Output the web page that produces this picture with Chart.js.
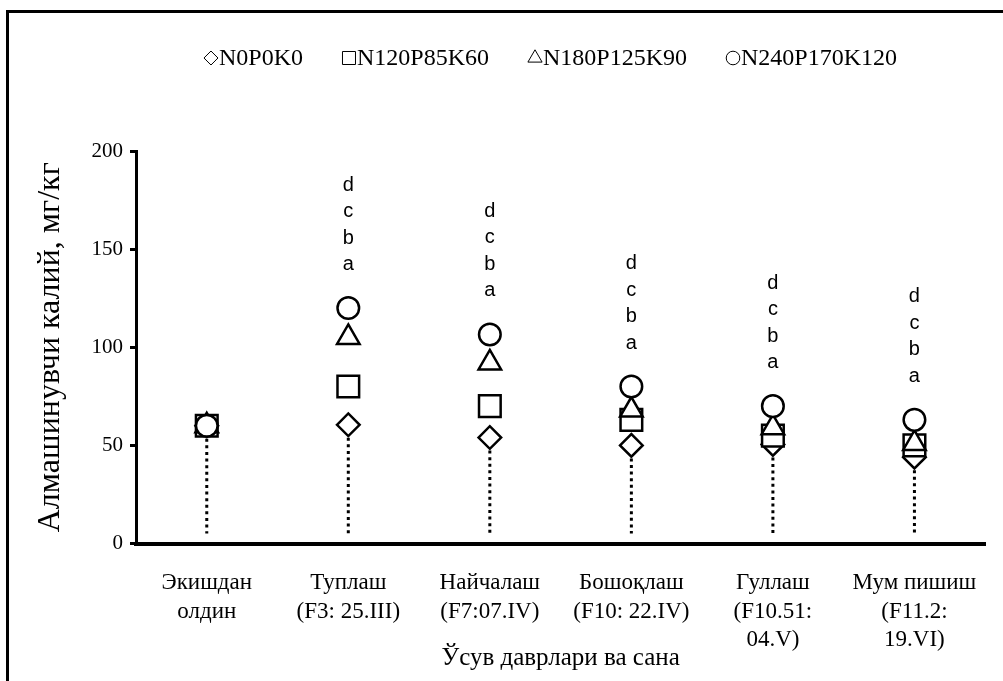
<!DOCTYPE html>
<html>
<head>
<meta charset="utf-8">
<script src="https://cdn.jsdelivr.net/npm/chart.js@4.4.0/dist/chart.umd.min.js"></script>
<style>
  html, body { margin: 0; padding: 0; background: #fff; }
  #wrap { width: 1003px; height: 681px; }
</style>
</head>
<body>
<div id="wrap"><canvas id="chart" width="1003" height="681"></canvas></div>
<script>
// --- data ---
const categories = [
  ['Экишдан', 'олдин'],
  ['Туплаш', '(F3: 25.III)'],
  ['Найчалаш', '(F7:07.IV)'],
  ['Бошоқлаш', '(F10: 22.IV)'],
  ['Гуллаш', '(F10.51:', '04.V)'],
  ['Мум пишиш', '(F11.2:', '19.VI)']
];
const seriesNames = ['N0P0K0', 'N120P85K60', 'N180P125K90', 'N240P170K120'];
const n0p0k0 = [60, 60.5, 54, 50, 50.5, 44];
const n120p85k60 = [60, 80, 70, 63, 55, 50];
const n180p125k90 = [60, 105, 92, 68, 59, 51];
const n240p170k120 = [60, 120, 106.5, 80, 70, 63];
const yTicks = [0, 50, 100, 150, 200];
const sigLetters = [
  [],
  ['a', 'b', 'c', 'd'],
  ['a', 'b', 'c', 'd'],
  ['a', 'b', 'c', 'd'],
  ['a', 'b', 'c', 'd'],
  ['a', 'b', 'c', 'd']
];

const SERIF = '"Liberation Serif", "Times New Roman", serif';
const SANS = '"Liberation Sans", Arial, sans-serif';

const markerStyles = ['rectRot', 'rect', 'triangle', 'circle'];
const markerRadius = [11.3, 15.3, 13, 10.8];
const legendRadius = [7, 9.2, 8.2, 6.8];

function makeSet(i, data) {
  return {
    label: seriesNames[i],
    data: data,
    showLine: false,
    pointStyle: markerStyles[i],
    pointRadius: markerRadius[i],
    pointHoverRadius: markerRadius[i],
    pointBorderWidth: 2.5,
    borderColor: '#000',
    backgroundColor: '#fff',
    order: 3 - i
  };
}

// white page with the black frame on left and top
const framePlugin = {
  id: 'frame',
  beforeDraw(chart) {
    const ctx = chart.ctx;
    ctx.save();
    ctx.fillStyle = '#fff';
    ctx.fillRect(0, 0, chart.width, chart.height);
    ctx.strokeStyle = '#000';
    ctx.lineWidth = 3;
    ctx.beginPath();
    ctx.moveTo(7.5, chart.height);
    ctx.lineTo(7.5, 11.5);
    ctx.lineTo(chart.width, 11.5);
    ctx.stroke();
    ctx.restore();
  }
};

// dotted drop lines from the lowest marker down to the axis
const dropPlugin = {
  id: 'drops',
  beforeDatasetsDraw(chart) {
    const ctx = chart.ctx;
    const x = chart.scales.x, y = chart.scales.y;
    ctx.save();
    ctx.strokeStyle = '#000';
    ctx.lineWidth = 3;
    ctx.setLineDash([3, 3.6]);
    categories.forEach((c, i) => {
      const low = Math.min(n0p0k0[i], n120p85k60[i], n180p125k90[i], n240p170k120[i]);
      const px = x.getPixelForValue(i);
      ctx.beginPath();
      ctx.moveTo(px, y.getPixelForValue(low) + 13);
      ctx.lineTo(px, y.getPixelForValue(0) - 10);
      ctx.stroke();
    });
    ctx.restore();
  }
};

// significance letters above each group
const lettersPlugin = {
  id: 'letters',
  afterDatasetsDraw(chart) {
    const ctx = chart.ctx;
    const x = chart.scales.x, y = chart.scales.y;
    ctx.save();
    ctx.fillStyle = '#000';
    ctx.font = '20px ' + SANS;
    ctx.textAlign = 'center';
    ctx.textBaseline = 'alphabetic';
    sigLetters.forEach((list, i) => {
      const top = Math.max(n0p0k0[i], n120p85k60[i], n180p125k90[i], n240p170k120[i]);
      const px = x.getPixelForValue(i);
      const base = y.getPixelForValue(top) - 38;
      list.forEach((t, k) => ctx.fillText(t, px, base - k * 26.5));
    });
    ctx.restore();
  }
};

// legend drawn as marker + text in one row
const legendPlugin = {
  id: 'rowLegend',
  afterDraw(chart) {
    const ctx = chart.ctx;
    ctx.save();
    ctx.font = '24px ' + SERIF;
    const gap = 38, markW = 16;
    const widths = seriesNames.map(n => markW + ctx.measureText(n).width);
    const total = widths.reduce((a, b) => a + b, 0) + gap * (seriesNames.length - 1);
    let cx = 550 - total / 2;
    const cy = 58;
    seriesNames.forEach((n, i) => {
      ctx.strokeStyle = '#000';
      ctx.fillStyle = '#fff';
      Chart.helpers.drawPoint(ctx, {
        pointStyle: markerStyles[i],
        radius: legendRadius[i],
        borderWidth: 1.3
      }, cx + markW / 2, cy);
      ctx.fillStyle = '#000';
      ctx.textAlign = 'left';
      ctx.textBaseline = 'middle';
      ctx.fillText(n, cx + markW, cy + 1);
      cx += widths[i] + gap;
    });
    ctx.restore();
  }
};

const ctx = document.getElementById('chart').getContext('2d');
new Chart(ctx, {
  type: 'line',
  data: {
    labels: categories,
    datasets: [
      makeSet(0, n0p0k0),
      makeSet(1, n120p85k60),
      makeSet(2, n180p125k90),
      makeSet(3, n240p170k120)
    ]
  },
  options: {
    responsive: false,
    animation: false,
    devicePixelRatio: 1,
    layout: { padding: { left: 10, top: 151, right: 16, bottom: 0 } },
    plugins: {
      legend: { display: false },
      tooltip: { enabled: false }
    },
    scales: {
      x: {
        type: 'category',
        offset: true,
        grid: { display: false, drawTicks: false },
        border: { display: true, color: '#000', width: 4 },
        ticks: {
          color: '#000',
          font: { family: SERIF, size: 23, lineHeight: 1.25 },
          padding: 25,
          maxRotation: 0,
          autoSkip: false
        },
        title: {
          display: true,
          text: 'Ўсув даврлари ва сана',
          color: '#000',
          font: { family: SERIF, size: 25 },
          padding: { top: 8, bottom: 8 }
        },
        afterFit(scale) { scale.height = 137.5; }
      },
      y: {
        min: 0,
        max: 200,
        afterBuildTicks(scale) { scale.ticks = yTicks.map(v => ({ value: v })); },
        grid: {
          display: true,
          drawOnChartArea: false,
          drawTicks: true,
          tickLength: 6,
          tickWidth: 3,
          tickColor: '#000'
        },
        border: { display: true, color: '#000', width: 3 },
        ticks: {
          color: '#000',
          font: { family: SERIF, size: 21 },
          padding: 7
        },
        title: {
          display: true,
          text: 'Алмашинувчи калий, мг/кг',
          color: '#000',
          font: { family: SERIF, size: 32 },
          padding: { top: 21, bottom: 0 }
        },
        afterFit(scale) { scale.width = 126; }
      }
    }
  },
  plugins: [framePlugin, dropPlugin, lettersPlugin, legendPlugin]
});
</script>
</body>
</html>
